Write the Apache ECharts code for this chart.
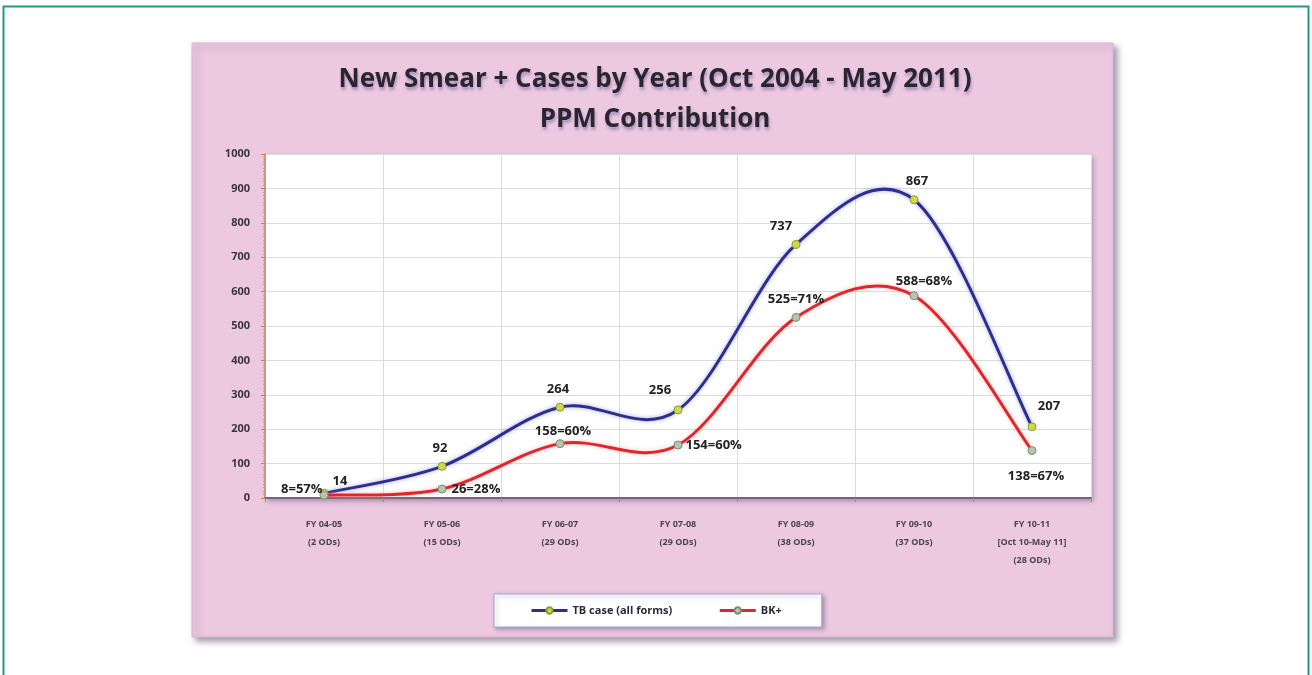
<!DOCTYPE html>
<html><head><meta charset="utf-8">
<style>html,body{margin:0;padding:0;background:#fff;}#c{width:1312px;height:675px;}</style>
<script src="https://cdn.jsdelivr.net/npm/echarts@6/dist/echarts.min.js"></script>
</head><body><div id="c"></div>
<script>
const categories = ['FY 04-05\n(2 ODs)','FY 05-06\n(15 ODs)','FY 06-07\n(29 ODs)','FY 07-08\n(29 ODs)','FY 08-09\n(38 ODs)','FY 09-10\n(37 ODs)','FY 10-11\n[Oct 10-May 11]\n(28 ODs)'];
const tbCases = [14, 92, 264, 256, 737, 867, 207];
const bkCases = [8, 26, 158, 154, 525, 588, 138];
const bkPercent = [57, 28, 60, 60, 71, 68, 67];
const yTicks = [0,100,200,300,400,500,600,700,800,900,1000];

const tbLabelPos = [
  {position:'top', offset:[16,4]},
  {position:'top', offset:[-2,-2]},
  {position:'top', offset:[-2,-2]},
  {position:'top', offset:[-18,-4]},
  {position:'top', offset:[-15,-2]},
  {position:'top', offset:[3,-2]},
  {position:'top', offset:[17,-4]}
];
const bkLabelPos = [
  {position:'left', offset:[8,-6]},
  {position:'right', offset:[0,0]},
  {position:'top', offset:[3,4]},
  {position:'right', offset:[-2,0]},
  {position:'top', offset:[0,-2]},
  {position:'top', offset:[10,2]},
  {position:'bottom', offset:[4,10]}
];

// Excel-style smooth curve (cubic Bezier, tension 1/6) through points mapped by the axes
function curveSeries(name, values, color, glow) {
  return {
    name: name, type: 'custom', z: 2, silent: true,
    data: values.map(function(v, i){ return [i, v]; }),
    renderItem: function(params, api) {
      if (params.dataIndex !== 0) return null;
      const pts = values.map(function(v, i){ return api.coord([i, v]); });
      const n = pts.length;
      let d = 'M' + pts[0][0] + ' ' + pts[0][1];
      for (let i = 0; i < n - 1; i++) {
        const p0 = pts[Math.max(i - 1, 0)], p1 = pts[i], p2 = pts[i + 1], p3 = pts[Math.min(i + 2, n - 1)];
        const c1x = p1[0] + (p2[0] - p0[0]) / 6, c1y = p1[1] + (p2[1] - p0[1]) / 6;
        const c2x = p2[0] - (p3[0] - p1[0]) / 6, c2y = p2[1] - (p3[1] - p1[1]) / 6;
        d += ' C' + c1x + ' ' + c1y + ' ' + c2x + ' ' + c2y + ' ' + p2[0] + ' ' + p2[1];
      }
      return {
        type: 'path', shape: {pathData: d},
        style: {fill: null, stroke: color, lineWidth: 3, shadowColor: glow, shadowBlur: 4}
      };
    }
  };
}

const chart = echarts.init(document.getElementById('c'));
const labelStyle = {show:true, color:'#222', fontFamily:'Open Sans, sans-serif', fontWeight:'bold', fontSize:13};
const tbColor = '#2c2f92', bkColor = '#e3252a';

chart.setOption({
  animation:false,
  backgroundColor:'#ffffff',
  graphic:[
    {type:'rect', z:-100, shape:{x:3.5,y:6.5,width:1305,height:720}, style:{fill:'#fff', stroke:'#1f9b6e', lineWidth:2}},
    {type:'rect', z:-90, shape:{x:192,y:43,width:921,height:594}, style:{fill:'#ecc8e1', stroke:'#d9b4cf', lineWidth:1, shadowBlur:6, shadowOffsetX:4, shadowOffsetY:4, shadowColor:'rgba(90,70,100,0.55)'}}
  ],
  title:{
    text:'New Smear + Cases by Year (Oct 2004 - May 2011)\nPPM Contribution',
    left:650, top:55, textAlign:'center',
    textStyle:{fontFamily:'Open Sans, sans-serif', fontWeight:'bold', fontSize:26, color:'#2a2530', lineHeight:40,
      textShadowColor:'rgba(90,80,140,0.45)', textShadowBlur:3, textShadowOffsetX:1, textShadowOffsetY:3}
  },
  grid:{left:265, right:221, top:154, bottom:177, show:true, backgroundColor:'#ffffff', borderWidth:0,
        shadowColor:'rgba(80,60,90,0.45)', shadowBlur:5, shadowOffsetX:2, shadowOffsetY:3},
  legend:{
    data:[
      {name:'TB case (all forms)', lineStyle:{color:tbColor, width:3, opacity:1}},
      {name:'BK+', lineStyle:{color:bkColor, width:3, opacity:1}}
    ],
    left:494, top:594, width:332, height:34,
    padding:[11,40,11,36], itemGap:46, itemWidth:36, itemHeight:8,
    backgroundColor:'#ffffff', borderColor:'#a8a8c8', borderWidth:1,
    shadowColor:'rgba(80,80,120,0.45)', shadowBlur:4, shadowOffsetX:2, shadowOffsetY:2,
    textStyle:{fontFamily:'Open Sans, sans-serif', fontWeight:'bold', fontSize:11, color:'#2a2a3a'}
  },
  xAxis:{
    type:'category', data:categories, boundaryGap:true,
    axisLine:{lineStyle:{color:'#74657c', width:2}},
    axisTick:{show:true, length:4, lineStyle:{color:'#9a8aa0'}},
    splitLine:{show:true, lineStyle:{color:'#dcdcdc', width:1}},
    axisLabel:{interval:0, margin:17, color:'#4a4450', fontFamily:'Open Sans, sans-serif', fontWeight:'bold', fontSize:9, lineHeight:18}
  },
  yAxis:{
    type:'value', min:0, max:1000, interval:100,
    axisLine:{show:true, lineStyle:{color:'#c8845a', width:1.5}},
    axisTick:{show:true, length:4, lineStyle:{color:'#c8845a'}},
    minorTick:{show:true, splitNumber:10, length:2, lineStyle:{color:'#d6a080'}},
    splitLine:{show:true, lineStyle:{color:'#dcdcdc', width:1}},
    axisLabel:{margin:15, color:'#3a3440', fontFamily:'Open Sans, sans-serif', fontWeight:'bold', fontSize:11,
      formatter:function(v){ return yTicks.indexOf(v) >= 0 ? String(v) : ''; }}
  },
  series:[
    curveSeries('tbCurve', tbCases, tbColor, 'rgba(110,110,200,0.6)'),
    curveSeries('bkCurve', bkCases, bkColor, 'rgba(240,140,140,0.6)'),
    {
      name:'TB case (all forms)', type:'line', data:tbCases.map(function(v,i){
        return {value:v, label:Object.assign({}, labelStyle, tbLabelPos[i])};
      }),
      symbol:'circle', symbolSize:8,
      lineStyle:{color:tbColor, width:3, opacity:0},
      itemStyle:{color:'#d3d84a', borderColor:'#8c9a2e', borderWidth:1},
      label:labelStyle, z:3
    },
    {
      name:'BK+', type:'line', data:bkCases.map(function(v,i){
        return {value:v, label:Object.assign({}, labelStyle, bkLabelPos[i], {formatter: v + '=' + bkPercent[i] + '%'})};
      }),
      symbol:'circle', symbolSize:8,
      lineStyle:{color:bkColor, width:3, opacity:0},
      itemStyle:{color:'#b2c6b0', borderColor:'#7d8c7a', borderWidth:1},
      label:labelStyle, z:3
    }
  ]
});
</script></body></html>
